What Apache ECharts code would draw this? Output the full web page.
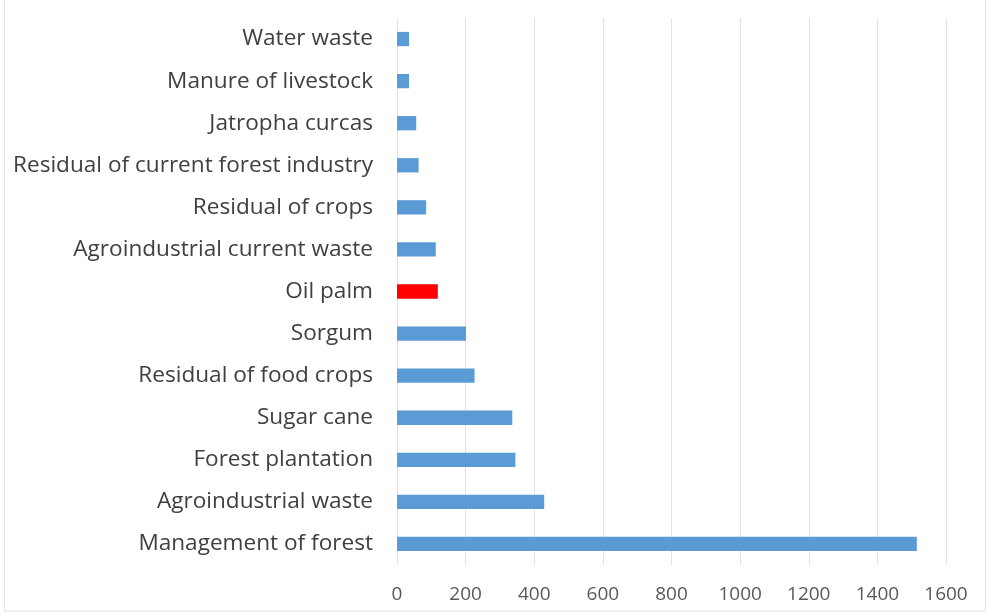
<!DOCTYPE html>
<html>
<head>
<meta charset="utf-8">
<script src="https://cdn.jsdelivr.net/npm/echarts@6/dist/echarts.min.js"></script>
<style>
  html, body { margin: 0; padding: 0; background: #fff; }
  #chart { width: 990px; height: 613px; }
</style>
</head>
<body>
<div id="chart"></div>
<script>
// Biomass sources, listed bottom-to-top as they appear on the category axis
const categories = [
  'Management of forest',
  'Agroindustrial waste',
  'Forest plantation',
  'Sugar cane',
  'Residual of food crops',
  'Sorgum',
  'Oil palm',
  'Agroindustrial current waste',
  'Residual of crops',
  'Residual of current forest industry',
  'Jatropha curcas',
  'Manure of livestock',
  'Water waste'
];
const values = [1515, 429, 345, 336, 226, 201, 119, 113, 85, 63, 56, 35, 35];
const highlighted = 'Oil palm';
const xTicks = [0, 200, 400, 600, 800, 1000, 1200, 1400, 1600];

const chart = echarts.init(document.getElementById('chart'));
chart.setOption({
  animation: false,
  backgroundColor: '#ffffff',
  textStyle: { fontFamily: '"Open Sans", sans-serif' },
  graphic: [{
    type: 'rect',
    shape: { x: 4.5, y: -2, width: 981, height: 613 },
    style: { fill: 'none', stroke: '#e4e4e4', lineWidth: 1 },
    silent: true
  }],
  grid: { left: 397, right: 44, top: 18, bottom: 48, containLabel: false },
  xAxis: {
    type: 'value',
    min: xTicks[0],
    max: xTicks[xTicks.length - 1],
    interval: 200,
    axisLine: { show: false },
    axisTick: { show: false },
    splitLine: { show: true, lineStyle: { color: '#e3e3e3', width: 1 } },
    axisLabel: { color: '#595959', fontSize: 19, margin: 20, formatter: v => String(v) }
  },
  yAxis: {
    type: 'category',
    data: categories,
    axisLine: { show: false },
    axisTick: { show: false },
    axisLabel: { color: '#404040', fontSize: 22.6, margin: 24, padding: [3, 0, 0, 0] }
  },
  series: [{
    type: 'bar',
    barCategoryGap: '66%',
    data: values.map((v, i) => ({
      value: v,
      itemStyle: { color: categories[i] === highlighted ? '#ff0000' : '#5b9bd5' }
    }))
  }]
});
</script>
</body>
</html>
